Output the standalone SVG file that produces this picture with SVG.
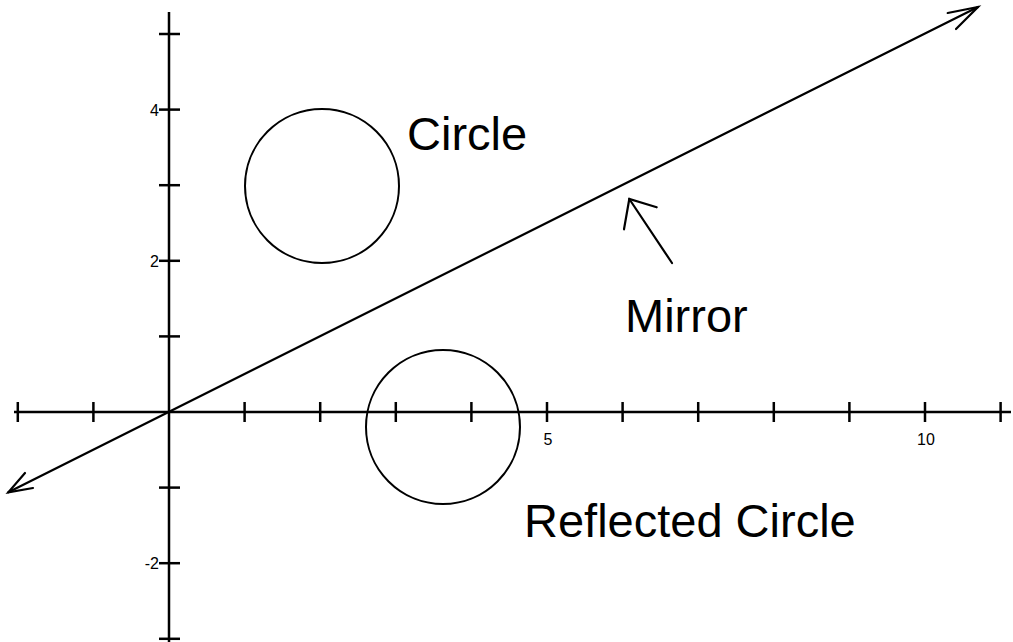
<svg xmlns="http://www.w3.org/2000/svg" width="1013" height="642" viewBox="0 0 1013 642">
<style>
.ax{stroke:#000;stroke-width:2.5;fill:none;stroke-linecap:butt}
.tk{stroke:#000;stroke-width:2.5;fill:none}
.ln{stroke:#000;stroke-width:2.2;fill:none;stroke-linecap:round;stroke-linejoin:miter}
.cir{stroke:#000;stroke-width:2;fill:none}
.lbl{font-family:"Liberation Sans",Arial,sans-serif;font-size:47px;fill:#000}
.num{font-family:"Liberation Sans",Arial,sans-serif;font-size:16px;fill:#000}
</style>
<rect width="1013" height="642" fill="#fff"/>
<g id="axes">
<line class="ax" x1="14" y1="412" x2="1011" y2="412"/>
<line class="ax" x1="169" y1="12" x2="169" y2="642"/>
<g class="tk">
<line x1="17.8" y1="402" x2="17.8" y2="422"/>
<line x1="93.4" y1="402" x2="93.4" y2="422"/>
<line x1="244.6" y1="402" x2="244.6" y2="422"/>
<line x1="320.2" y1="402" x2="320.2" y2="422"/>
<line x1="395.8" y1="402" x2="395.8" y2="422"/>
<line x1="471.4" y1="402" x2="471.4" y2="422"/>
<line x1="547" y1="402" x2="547" y2="422"/>
<line x1="622.6" y1="402" x2="622.6" y2="422"/>
<line x1="698.2" y1="402" x2="698.2" y2="422"/>
<line x1="773.8" y1="402" x2="773.8" y2="422"/>
<line x1="849.4" y1="402" x2="849.4" y2="422"/>
<line x1="925" y1="402" x2="925" y2="422"/>
<line x1="1000.6" y1="402" x2="1000.6" y2="422"/>
<line x1="159" y1="34" x2="180" y2="34"/>
<line x1="159" y1="109.6" x2="180" y2="109.6"/>
<line x1="159" y1="185.2" x2="180" y2="185.2"/>
<line x1="159" y1="260.8" x2="180" y2="260.8"/>
<line x1="159" y1="336.4" x2="180" y2="336.4"/>
<line x1="159" y1="487.6" x2="180" y2="487.6"/>
<line x1="159" y1="563.2" x2="180" y2="563.2"/>
<line x1="159" y1="638.8" x2="180" y2="638.8"/>
</g>
<text class="num" x="159" y="116" text-anchor="end">4</text>
<text class="num" x="159" y="267" text-anchor="end">2</text>
<text class="num" x="159" y="569" text-anchor="end">-2</text>
<text class="num" x="548" y="445" text-anchor="middle">5</text>
<text class="num" x="926" y="445" text-anchor="middle">10</text>
</g>
<g id="circle">
<circle class="cir" cx="322" cy="186" r="77"/>
<text class="lbl" x="407" y="150">Circle</text>
</g>
<g id="reflected-circle">
<circle class="cir" cx="443" cy="427" r="77"/>
<text class="lbl" x="524" y="537">Reflected Circle</text>
</g>
<g id="mirror-label">
<text class="lbl" x="625" y="332">Mirror</text>
</g>
<g id="connectors">
<line class="ln" x1="8.3" y1="492.3" x2="978" y2="7"/>
<polyline class="ln" points="947.7,13 978,7 956,29"/>
<polyline class="ln" points="25,473 8.3,492.3 33,488"/>
<line class="ln" x1="672" y1="263" x2="629.3" y2="199"/>
<polyline class="ln" points="656.7,207.3 629.3,199 624,229.3"/>
</g>
</svg>
